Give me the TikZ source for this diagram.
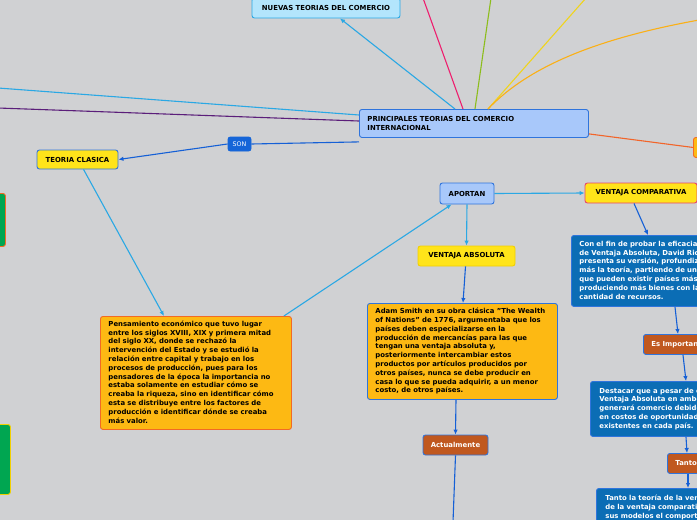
\documentclass[tikz,border=0pt]{standalone}
\usepackage{fontspec}
\setmainfont{DejaVu Sans}
\usetikzlibrary{arrows.meta,calc}
\definecolor{bg}{HTML}{D0D1D3}
\definecolor{lbfill}{HTML}{B3E5FC}
\definecolor{lbline}{HTML}{2AA8E4}
\definecolor{pfill}{HTML}{A8C8FA}
\definecolor{bborder}{HTML}{2F74DC}
\definecolor{yel}{HTML}{FFE41A}
\definecolor{org}{HTML}{FDB913}
\definecolor{orgb}{HTML}{F26A24}
\definecolor{brown}{HTML}{C0581F}
\definecolor{dblue}{HTML}{0B6DB5}
\definecolor{sonb}{HTML}{1565D8}
\definecolor{pink}{HTML}{EE1E6E}
\definecolor{lgreen}{HTML}{8CBD1B}
\definecolor{lyel}{HTML}{F0D41C}
\definecolor{lorg}{HTML}{FBB016}
\definecolor{purp}{HTML}{5B1E7A}
\definecolor{redor}{HTML}{F2652A}
\definecolor{darkline}{HTML}{1560D6}
\definecolor{gbox}{HTML}{00A651}
\definecolor{pinkb}{HTML}{E8456B}
\definecolor{yelb}{HTML}{F2D000}
\begin{document}
\begin{tikzpicture}[x=1pt,y=-1pt,
  box/.style={rounded corners=2.5pt, line width=0.9pt, inner sep=0pt, font=\fontsize{6.9}{8.8}\selectfont\bfseries},
  tbox/.style={box, anchor=north west, align=left, inner xsep=8pt, inner ysep=0pt},
  cbox/.style={box, align=center},
  arr/.style={line width=1.1pt, -{Latex[length=5pt,width=4.5pt]}},
  ln/.style={line width=1.1pt}]
\useasboundingbox (0,0) rectangle (697,520);
\clip (0,0) rectangle (697,520);
\fill[bg] (0,0) rectangle (697,520);

% far-end coordinates
\coordinate (pinkend) at (423,-2);
\coordinate (greenend) at (491,-2);
\coordinate (yelend) at (586,-2);
\coordinate (orgend) at (699,20);
\coordinate (lbend) at (-2,88);
\coordinate (purpend) at (-2,108);
\coordinate (bottomend) at (453,522);

% nodes
\node[cbox, fill=lbfill, draw=lbline, minimum width=148pt, minimum height=20pt] (nuevas) at (326,8) {NUEVAS TEORIAS DEL COMERCIO};
\node[box, fill=pfill, draw=bborder, minimum width=229pt, minimum height=28pt, anchor=north west, align=left, text width=213pt, inner xsep=8pt] (princ) at (359,109) {PRINCIPALES TEORIAS DEL COMERCIO\\INTERNACIONAL};
\node[cbox, fill=sonb, draw=sonb, text=white, font=\fontsize{6.3}{7}\selectfont, minimum width=23pt, minimum height=14pt] (son) at (239.5,144) {SON};
\node[cbox, fill=yel, draw=bborder, minimum width=81pt, minimum height=19pt] (clasica) at (77.5,159.5) {TEORIA CLASICA};
\node[box, fill=gbox, draw=orgb, minimum width=30pt, minimum height=53pt, anchor=north west] (green1) at (-25,193) {};
\node[box, fill=gbox, draw=yelb, minimum width=35pt, minimum height=70pt, anchor=north west] (green2) at (-25,424) {};
\node[box, fill=org, draw=orgb, minimum width=30pt, minimum height=20pt, anchor=north west] (orgright) at (693,137) {};

\node[tbox, fill=org, draw=orgb, text width=175pt, minimum height=113pt] (pens) at (100,316) {\begin{tabular}{@{}l@{}}Pensamiento económico que tuvo lugar\\entre los siglos XVIII, XIX y primera mitad\\del siglo XX, donde se rechazó la\\intervención del Estado y se estudió la\\relación entre capital y trabajo en los\\procesos de producción, pues para los\\pensadores de la época la importancia no\\estaba solamente en estudiar cómo se\\creaba la riqueza, sino en identificar cómo\\esta se distribuye entre los factores de\\producción e identificar dónde se creaba\\más valor.\end{tabular}};

\node[cbox, fill=pfill, draw=bborder, minimum width=54pt, minimum height=21pt] (aportan) at (467,193.5) {APORTAN};
\node[cbox, fill=yel, draw=pinkb, minimum width=112pt, minimum height=20pt] (comp) at (641,193) {VENTAJA COMPARATIVA};
\node[cbox, fill=yel, draw=yelb, minimum width=97pt, minimum height=20pt] (abs) at (466.5,256) {VENTAJA ABSOLUTA};

\node[tbox, fill=org, draw=bborder, text width=174pt, minimum height=96pt] (adam) at (367,303) {\begin{tabular}{@{}l@{}}Adam Smith en su obra clásica "The Wealth\\of Nations" de 1776, argumentaba que los\\países deben especializarse en la\\producción de mercancías para las que\\tengan una ventaja absoluta y,\\posteriormente intercambiar estos\\productos por artículos producidos por\\otros países, nunca se debe producir en\\casa lo que se pueda adquirir, a un menor\\costo, de otros países.\end{tabular}};

\node[cbox, fill=brown, draw=bborder, text=white, minimum width=65pt, minimum height=20pt] (actual) at (455.5,445) {Actualmente};

\node[tbox, fill=dblue, draw=bborder, text=white, text width=180pt, minimum height=71pt] (fin) at (571,235) {\begin{tabular}{@{}l@{}}Con el fin de probar la eficacia de la teoría\\de Ventaja Absoluta, David Ricardo\\presenta su versión, profundizando\\más la teoría, partiendo de un supuesto\\que pueden existir países más eficientes\\produciendo más bienes con la misma\\cantidad de recursos.\end{tabular}};

\node[tbox, fill=brown, draw=bborder, text=white, text width=70pt, minimum height=20pt] (import) at (643,334) {Es Importante};

\node[tbox, fill=dblue, draw=bborder, text=white, inner xsep=9pt, text width=170pt, minimum height=55pt] (destacar) at (590,381) {\begin{tabular}{@{}l@{}}Destacar que a pesar de existir\\Ventaja Absoluta en ambos países, se\\generará comercio debido a diferencias\\en costos de oportunidad\\existentes en cada país.\end{tabular}};

\node[tbox, fill=brown, draw=bborder, text=white, text width=60pt, minimum height=20pt] (tanto) at (667,453) {Tanto};

\node[tbox, fill=dblue, draw=bborder, text=white, inner xsep=9pt, inner ysep=6pt, text width=190pt] (tantot) at (596,488) {\begin{tabular}{@{}l@{}}Tanto la teoría de la ventaja absoluta como\\de la ventaja comparativa explican en\\sus modelos el comportamiento del\\comercio internacional.\end{tabular}};

% connectors from central node
\draw[arr, lbline] ($(princ.north west)+(96,0)$) -- ($(nuevas.south)+(14,0)$);
\draw[ln, pink] ($(princ.north west)+(104,0)$) -- (pinkend);
\draw[ln, lgreen] ($(princ.north west)+(116,0)$) -- (greenend);
\draw[ln, lyel] ($(princ.north west)+(129,0)$) -- (yelend);
\draw[ln, lorg] ($(princ.north west)+(129,0)$) .. controls (530,65) and (600,38) .. (orgend);
\draw[ln, lbline] ($(princ.north west)+(0,6)$) -- (lbend);
\draw[ln, purp] ($(princ.north west)+(0,12)$) -- (purpend);
\draw[ln, redor] ($(princ.south east)+(0,-4)$) -- (orgright.west);
\draw[ln, darkline] ($(princ.south west)+(0,4)$) -- (son.east);
\draw[arr, darkline] (son.west) -- (clasica.east);

\draw[arr, lbline] ($(clasica.south west)+(47,0)$) -- ($(pens.north west)+(64,0)$);
\draw[arr, lbline] ($(pens.north east)+(-8,0)$) -- ($(aportan.south west)+(12,0)$);
\draw[arr, lbline] (aportan.east) -- (comp.west);
\draw[arr, lbline] (aportan.south) -- (abs.north);
\draw[arr, darkline] ($(abs.south)+(-1,0)$) -- ($(adam.north west)+(96,0)$);
\draw[arr, darkline] ($(adam.south west)+(89,0)$) -- (actual.north);
\draw[ln, darkline] (actual.south) -- (bottomend);
\draw[arr, darkline] ($(comp.south)+(-7,0)$) -- ($(fin.north west)+(77,0)$);
\draw[arr, darkline] ($(fin.south west)+(104,0)$) -- ($(import.north west)+(35,0)$);
\draw[arr, darkline] ($(import.south west)+(40,0)$) -- ($(destacar.north west)+(96,0)$);
\draw[arr, darkline] ($(destacar.south west)+(96,0)$) -- ($(tanto.north west)+(20,0)$);
\draw[arr, darkline] ($(tanto.south west)+(21,0)$) -- ($(tantot.north west)+(92,0)$);
\end{tikzpicture}
\end{document}
